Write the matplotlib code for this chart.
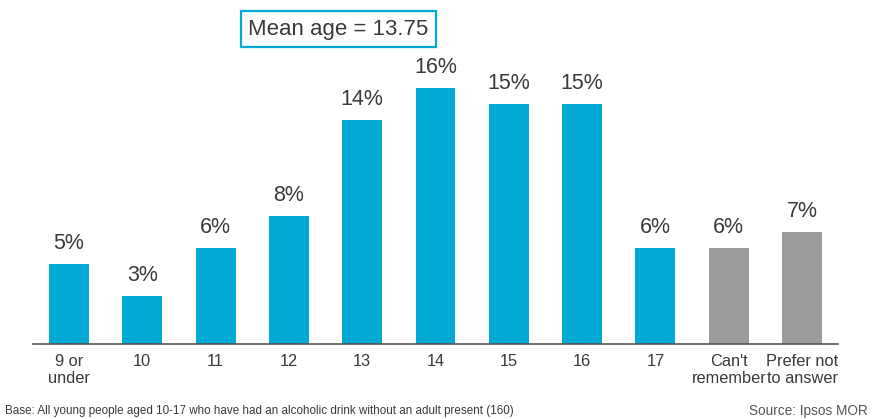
import matplotlib.pyplot as plt

# Dados.
categorias = ["9 or\nunder", "10", "11", "12", "13", "14", "15", "16", "17",
              "Can't\nremember", "Prefer not\nto answer"]
valores = [5, 3, 6, 8, 14, 16, 15, 15, 6, 6, 7]
rotulos = ["5%", "3%", "6%", "8%", "14%", "16%", "15%", "15%", "6%", "6%", "7%"]
cores = ["#00AAD4"] * 9 + ["#9B9B9B"] * 2

AZUL = "#00AAD4"
TEXTO = "#3a3a3a"

plt.rcParams["font.family"] = ["Liberation Sans", "DejaVu Sans"]

fig = plt.figure(figsize=(8.74, 4.19), dpi=100)
ax = fig.add_axes([33 / 874, 75 / 419, 805 / 874, 320 / 419])

x = range(len(valores))
ax.bar(x, valores, width=0.545, color=cores)

for xi, v, r in zip(x, valores, rotulos):
    ax.annotate(r, (xi, v), xytext=(0, 7), textcoords="offset points",
                ha="center", va="bottom", fontsize=15.5, color=TEXTO)

ax.set_xlim(-0.49, 10.49)
ax.set_ylim(0, 20)
ax.set_xticks(list(x))
ax.set_xticklabels(categorias, fontsize=11.8, color=TEXTO, linespacing=1.15)
ax.tick_params(axis="x", length=0, pad=7)
ax.set_yticks([])
for lado in ["top", "right", "left"]:
    ax.spines[lado].set_visible(False)
ax.spines["bottom"].set_color("#555555")
ax.spines["bottom"].set_linewidth(1.2)

# Caixa com a idade media.
fig.text(338.5 / 874, 1 - 29 / 419, "Mean age = 13.75", ha="center", va="center",
         fontsize=16, color=TEXTO,
         bbox=dict(boxstyle="square,pad=0.33", facecolor="white",
                   edgecolor=AZUL, linewidth=1.6))

fig.text(5 / 874, 1 - 411 / 419,
         "Base: All young people aged 10-17 who have had an alcoholic drink "
         "without an adult present (160)",
         ha="left", va="center", fontsize=8.4, color=TEXTO)
fig.text(868 / 874, 1 - 411 / 419, "Source: Ipsos MOR", ha="right",
         va="center", fontsize=9.8, color="#555555")

fig.savefig("out.png", dpi=100)
